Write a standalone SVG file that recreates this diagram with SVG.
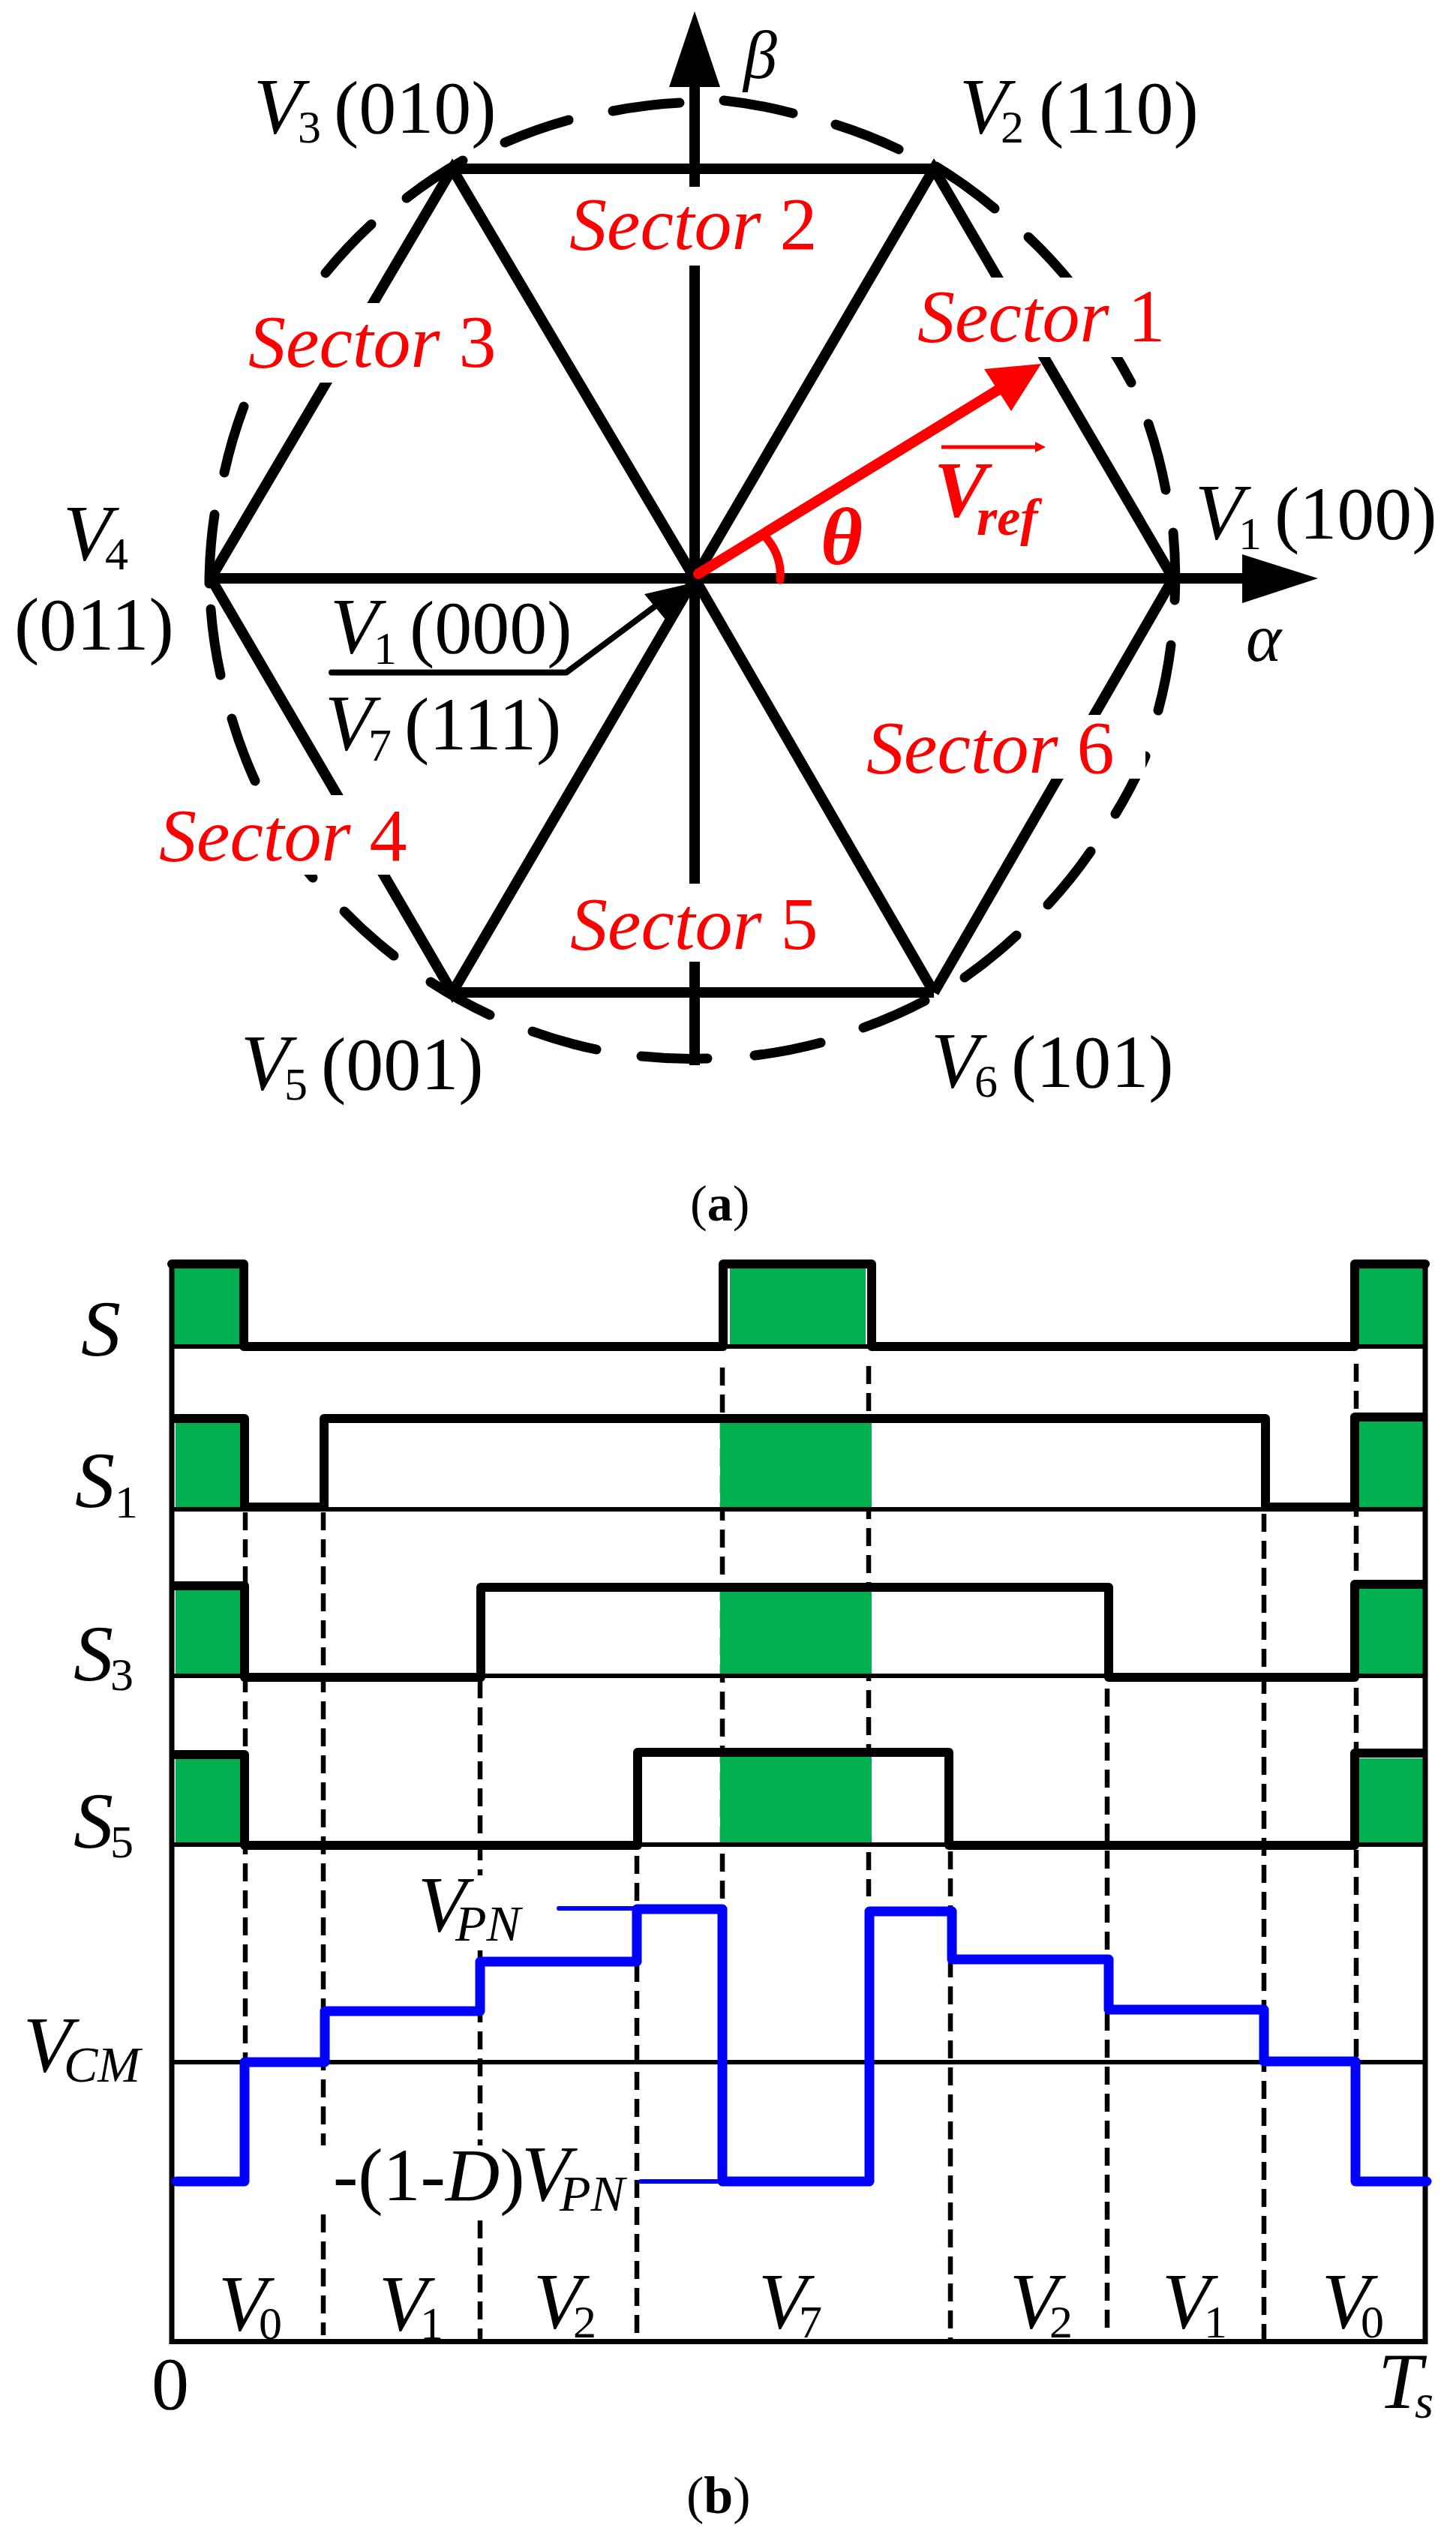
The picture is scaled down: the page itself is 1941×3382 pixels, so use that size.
<svg xmlns="http://www.w3.org/2000/svg" width="1941" height="3382" viewBox="0 0 1941 3382">
<style>
text{font-family:"Liberation Serif","Times New Roman",serif;font-size:100px;fill:#000}
.i{font-style:italic}
.v{font-style:italic;font-size:106px;letter-spacing:-8px}
.vt{font-style:italic;font-size:106px;letter-spacing:-18px}
.s{font-size:62px}
.si{font-size:64px;font-style:italic}
.lg{font-size:68px;font-style:italic}
.red,.red tspan{fill:#f00}
.hex{fill:none;stroke:#000;stroke-width:14;stroke-linejoin:miter}
.dc{fill:none;stroke:#000;stroke-width:13;stroke-linecap:round}
.wb{fill:#fff}
.rl{fill:none;stroke:#f00;stroke-linecap:round}
.gr{fill:#00b050}
.ax{fill:none;stroke:#000;stroke-width:7}
.th{fill:none;stroke:#000;stroke-width:6}
.sig{fill:none;stroke:#000;stroke-width:12;stroke-linejoin:round;stroke-linecap:round}
.dl{fill:none;stroke:#000;stroke-width:6.5;stroke-dasharray:24 12}
.bl{fill:none;stroke:#00f;stroke-width:13;stroke-linejoin:round;stroke-linecap:round}
.bt{fill:none;stroke:#00f;stroke-width:6;stroke-linecap:round}
</style>
<g id="panel-a">
<g id="hexagon">
<path class="hex" d="M281,771H1656M926,116V1420M603,225H1245M603,1323H1245M281,771L603,225L926,771L1245,1323M281,771L603,1323L926,771L1245,225L1564,771L1245,1323"/>
<polygon points="926,15 892,116 960,116" fill="#000"/>
<polygon points="1757,771 1656,739 1656,804" fill="#000"/>
</g>
<g id="dashed-circle">
<path class="dc" d="M673,190A640 640 0 0 1 758,160M817,148A640 640 0 0 1 906,137M965,134A640 640 0 0 1 1057,151M1114,166A640 640 0 0 1 1198,199M1248,222A640 640 0 0 1 1326,278M1371,316A640 640 0 0 1 1430,380M1480,462A640 640 0 0 1 1508,510M1531,565A640 640 0 0 1 1554,653M1564,710A640 640 0 0 1 1566,800M1561,860A640 640 0 0 1 1544,947M1527,1008A640 640 0 0 1 1487,1085M1454,1135A640 640 0 0 1 1397,1206M1355,1247A640 640 0 0 1 1286,1303M1233,1334A640 640 0 0 1 1151,1370M1094,1390A640 640 0 0 1 1006,1407M943,1411A640 640 0 0 1 855,1408M795,1399A640 640 0 0 1 710,1375M653,1353A640 640 0 0 1 574,1309M525,1274A640 640 0 0 1 459,1215M417,1170A640 640 0 0 1 375,1115M340,1041A640 640 0 0 1 309,958M294,900A640 640 0 0 1 281,812M279,778A640 640 0 0 1 286,686M299,630A640 640 0 0 1 325,542M434,364A640 640 0 0 1 495,299M542,264A640 640 0 0 1 617,214"/>
</g>
<g id="label-backgrounds">
<rect class="wb" x="320" y="404" width="350" height="106"/>
<rect class="wb" x="745" y="249" width="355" height="105"/>
<rect class="wb" x="1210" y="370" width="310" height="106"/>
<rect class="wb" x="1150" y="953" width="377" height="85"/>
<rect class="wb" x="205" y="1060" width="315" height="106"/>
<rect class="wb" x="755" y="1178" width="335" height="104"/>
</g>
<g id="leader">
<path d="M442,896.5H755L895,792" fill="none" stroke="#000" stroke-width="8" stroke-linecap="round" stroke-linejoin="round"/>
<polygon points="915,779 859,792 888,827" fill="#000"/>
</g>
<g id="vref-vector">
<path class="rl" stroke-width="14" d="M931,765L1335,517"/>
<polygon points="1388,485 1312,492 1348,548" fill="#f00"/>
<path class="rl" stroke-width="11" d="M1019,714Q1043,740 1040,773"/>
<path fill="none" stroke="#f00" stroke-width="5" d="M1255,596H1385"/>
<polygon points="1394,596 1380,589 1380,603" fill="#f00"/>
</g>
<g id="sector-labels">
<text class="red" x="331" y="489"><tspan class="i">Sector </tspan>3</text>
<text class="red" x="759" y="332"><tspan class="i">Sector </tspan>2</text>
<text class="red" x="1223" y="455"><tspan class="i">Sector </tspan>1</text>
<text class="red" x="1155" y="1030"><tspan class="i">Sector </tspan>6</text>
<text class="red" x="212" y="1147"><tspan class="i">Sector </tspan>4</text>
<text class="red" x="760" y="1265"><tspan class="i">Sector </tspan>5</text>
<text class="red i" x="1094" y="752" style="font-size:108px;font-weight:bold">θ</text>
<text class="red i" x="1245" y="688" style="font-weight:bold;font-size:106px;letter-spacing:-8px">V<tspan class="si" x="1302" y="713" style="font-size:70px;letter-spacing:0">ref</tspan></text>
</g>
<g id="vector-labels">
<text x="338" y="177"><tspan class="v">V</tspan><tspan class="s" x="397" y="190">3 </tspan><tspan x="445" y="177">(010)</tspan></text>
<text x="1279" y="177"><tspan class="v">V</tspan><tspan class="s" x="1334" y="190">2 </tspan><tspan x="1385" y="177">(110)</tspan></text>
<text x="1593" y="718"><tspan class="v">V</tspan><tspan class="s" x="1651" y="732">1 </tspan><tspan x="1699" y="718">(100)</tspan></text>
<text x="84" y="746"><tspan class="v">V</tspan><tspan class="s" x="140" y="759">4</tspan></text>
<text x="19" y="866">(011)</text>
<text x="440" y="870"><tspan class="v">V</tspan><tspan class="s" x="498" y="885">1 </tspan><tspan x="546" y="870">(000)</tspan></text>
<text x="433" y="999"><tspan class="v">V</tspan><tspan class="s" x="491" y="1014">7 </tspan><tspan x="539" y="999">(111)</tspan></text>
<text x="321" y="1452"><tspan class="v">V</tspan><tspan class="s" x="379" y="1466">5 </tspan><tspan x="428" y="1452">(001)</tspan></text>
<text x="1241" y="1449"><tspan class="v">V</tspan><tspan class="s" x="1299" y="1462">6 </tspan><tspan x="1348" y="1449">(101)</tspan></text>
<text class="i" x="991" y="104" style="font-size:90px">β</text>
<text class="i" x="1661" y="881" style="font-size:90px">α</text>
</g>
<text id="caption-a" x="920" y="1627" style="font-size:68px">(<tspan font-weight="bold">a</tspan>)</text>
</g>
<g id="panel-b">
<g id="dashed-guides">
<path class="dl" d="M327,2016V2745M431,2016V3113M640,2240V3118M849,2474V3110M963,1823V2540M1158,1821V2528M1267,2468V3118M1476,2251V3105M1685,2018V3125M1808,1818V2742"/>
<rect class="wb" x="425" y="2860" width="415" height="92"/>
<rect class="wb" x="560" y="2500" width="140" height="92"/>
</g>
<g id="green-fills">
<rect class="gr" x="232" y="1691" width="88" height="104"/><rect class="gr" x="973" y="1691" width="181" height="105"/><rect class="gr" x="1812" y="1691" width="85" height="104"/>
<rect class="gr" x="234" y="1897" width="86" height="113"/><rect class="gr" x="960" y="1897" width="202" height="113"/><rect class="gr" x="1812" y="1895" width="85" height="115"/>
<rect class="gr" x="234" y="2120" width="86" height="113"/><rect class="gr" x="960" y="2122" width="202" height="112"/><rect class="gr" x="1812" y="2117" width="85" height="116"/>
<rect class="gr" x="234" y="2345" width="86" height="114"/><rect class="gr" x="960" y="2342" width="202" height="116"/><rect class="gr" x="1812" y="2344" width="85" height="116"/>
</g>
<g id="axes">
<path class="ax" d="M229,1684V3121.500H1900V1688"/>
<path class="th" d="M229,1795H1900M229,2012H1900M229,2234H1900M229,2459H1900M229,2749H1900"/>
</g>
<g id="signals">
<path id="sig-s" class="sig" d="M229,1685H325V1795H964V1685H1162V1795H1806V1685H1900"/>
<path id="sig-s1" class="sig" d="M232,1891H326V2009H432V1891H1687V2009H1806V1889H1897"/>
<path id="sig-s3" class="sig" d="M232,2114H326V2236H641V2116H1478V2236H1806V2112H1897"/>
<path id="sig-s5" class="sig" d="M232,2339H326V2460H850V2336H1265V2460H1806V2337H1897"/>
</g>
<g id="vcm">
<path class="bt" d="M745,2544H849M854,2908H963"/>
<path class="bl" d="M235,2908H326V2749H433V2681H640V2615H849V2545H963V2908H1159V2548H1269V2612H1478V2679H1685V2748H1807V2908H1902"/>
</g>
<g id="signal-labels">
<text class="v" x="108" y="1807">S</text>
<text x="100" y="2009"><tspan class="v">S</tspan><tspan class="s" x="153" y="2023">1</tspan></text>
<text x="98" y="2240"><tspan class="v">S</tspan><tspan class="s" x="147" y="2253">3</tspan></text>
<text x="98" y="2463"><tspan class="v">S</tspan><tspan class="s" x="147" y="2476">5</tspan></text>
<text x="31" y="2761"><tspan class="vt">V</tspan><tspan class="lg" x="85" y="2775">CM</tspan></text>
<text x="557" y="2574"><tspan class="vt">V</tspan><tspan class="lg" x="607" y="2587">PN</tspan></text>
<text x="444" y="2933">-(1-<tspan class="i">D</tspan>)<tspan class="vt" x="695">V</tspan><tspan class="lg" x="746" y="2947">PN</tspan></text>
</g>
<g id="segment-labels">
<text x="291" y="3106"><tspan class="v">V</tspan><tspan class="s" x="345" y="3118">0</tspan></text>
<text x="505" y="3106"><tspan class="v">V</tspan><tspan class="s" x="560" y="3118">1</tspan></text>
<text x="711" y="3103"><tspan class="vt">V</tspan><tspan class="s" x="764" y="3116">2</tspan></text>
<text x="1011" y="3103"><tspan class="vt">V</tspan><tspan class="s" x="1065" y="3116">7</tspan></text>
<text x="1346" y="3103"><tspan class="vt">V</tspan><tspan class="s" x="1399" y="3116">2</tspan></text>
<text x="1549" y="3103"><tspan class="v">V</tspan><tspan class="s" x="1605" y="3116">1</tspan></text>
<text x="1762" y="3103"><tspan class="vt">V</tspan><tspan class="s" x="1814" y="3116">0</tspan></text>
<text x="202" y="3211">0</text>
<text x="1837" y="3210"><tspan class="vt">T</tspan><tspan class="si" x="1886" y="3223">s</tspan></text>
</g>
<text id="caption-b" x="915" y="3350" style="font-size:70px">(<tspan font-weight="bold">b</tspan>)</text>
</g>
</svg>
